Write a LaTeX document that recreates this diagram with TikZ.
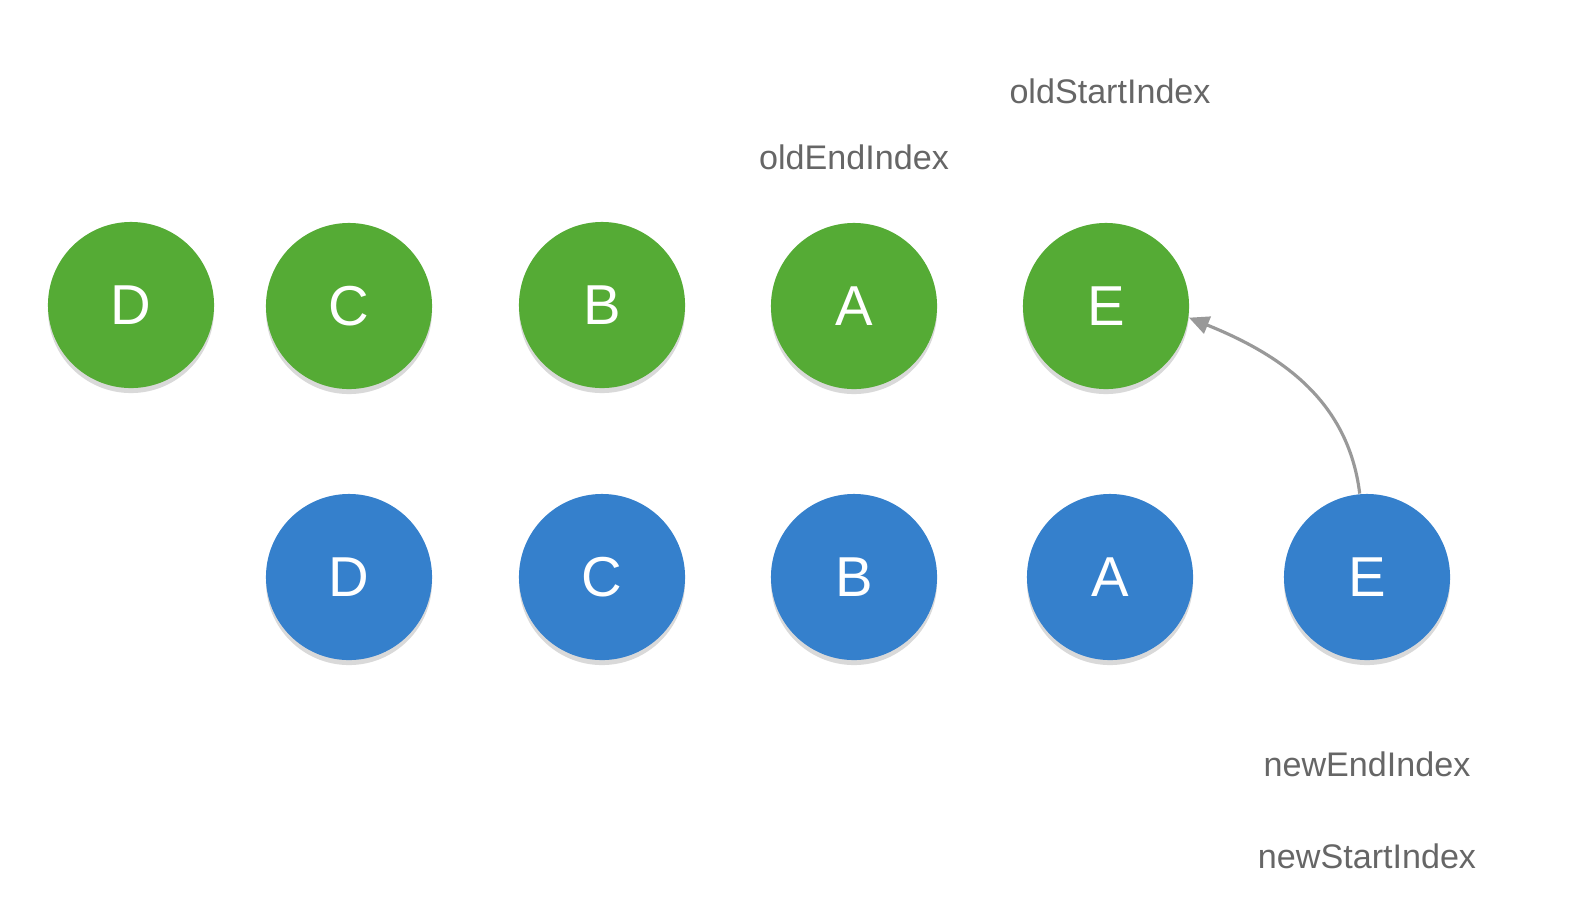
\documentclass[tikz,border=0pt]{standalone}
\usepackage{fontspec}
\setmainfont{Liberation Sans}
\usepackage{xcolor}
\definecolor{oldgreen}{HTML}{55AB35}
\definecolor{newblue}{HTML}{3580CC}
\definecolor{labelgray}{HTML}{666666}
\definecolor{arrowgray}{HTML}{999999}
\usetikzlibrary{shadows,arrows.meta}

\begin{document}
\begin{tikzpicture}[
        x=0.01cm, y=-0.01cm,
        vnode/.style={circle, minimum size=1.66cm, inner sep=0pt, text=white, font=\fontsize{16}{18}\selectfont,
            drop shadow={shadow xshift=0pt, shadow yshift=-0.05cm, opacity=0.15, fill=black}},
        oldnode/.style={vnode, fill=oldgreen},
        newnode/.style={vnode, fill=newblue},
        idx/.style={text=labelgray, font=\fontsize{9.7}{12}\selectfont},
        move/.style={-{Triangle[length=0.2cm, width=0.18cm]}, draw=arrowgray, line width=0.9pt}
    ]
        \useasboundingbox (0,0) rectangle (1570,914);

        % Old children
        \node[oldnode] (oldD) at (131,305) {D};
        \node[oldnode] (oldC) at (349,306) {C};
        \node[oldnode] (oldB) at (602,305) {B};
        \node[oldnode] (oldA) at (854,306) {A};
        \node[oldnode] (oldE) at (1106,306) {E};

        % New children
        \node[newnode] (newD) at (349,577) {D};
        \node[newnode] (newC) at (602,577) {C};
        \node[newnode] (newB) at (854,577) {B};
        \node[newnode] (newA) at (1110,577) {A};
        \node[newnode] (newE) at (1367,577) {E};

        % Index labels
        \node[idx] (oldstart) at (1110,91) {oldStartIndex};
        \node[idx] (oldend) at (854,157) {oldEndIndex};
        \node[idx] (newend) at (1367,764) {newEndIndex};
        \node[idx] (newstart) at (1367,856) {newStartIndex};

        % Move
        \draw[move] (newE.95) to[out=97, in=-22] (oldE.-8);

    \end{tikzpicture}
\end{document}
